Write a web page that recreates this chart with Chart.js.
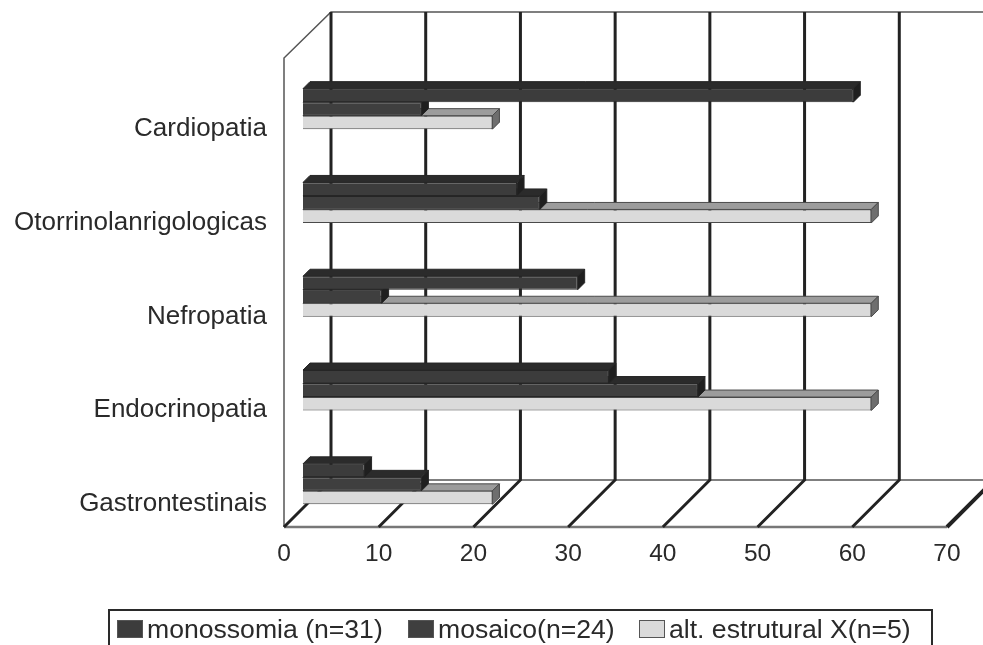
<!DOCTYPE html>
<html>
<head>
<meta charset="utf-8">
<script src="https://cdn.jsdelivr.net/npm/chart.js@4"></script>
<style>
  html, body { margin: 0; padding: 0; background: #fff; overflow: hidden; }
  #wrap { position: relative; width: 983px; height: 645px; overflow: hidden; }
  canvas { display: block; }
  #legend {
    position: absolute; left: 108px; top: 609px; width: 821px; height: 60px;
    border: 2px solid #2a2a2a; display: flex; align-items: flex-start; padding-top: 2px;
    font: 26.6px "Liberation Sans", Arial, sans-serif; color: #2a2a2a; white-space: nowrap;
  }
  .item { position: absolute; top: 0; height: 36px; display: flex; align-items: center; }
  .swatch { width: 26px; height: 18px; margin-right: 4px; box-sizing: border-box; border: 1px solid #555; }
</style>
</head>
<body>
<div id="wrap">
  <canvas id="chart" width="983" height="645"></canvas>
  <div id="legend"></div>
</div>
<script>
const categories = ['Cardiopatia', 'Otorrinolanrigologicas', 'Nefropatia', 'Endocrinopatia', 'Gastrontestinais'];
const monossomia = [58.1, 22.6, 29, 32.3, 6.5];
const mosaico = [12.5, 25, 8.3, 41.7, 12.5];
const estrutural = [20, 60, 60, 60, 20];
const xTicks = [0, 10, 20, 30, 40, 50, 60, 70];

const seriesNames = ['monossomia (n=31)', 'mosaico(n=24)', 'alt. estrutural X(n=5)'];
const frontColors = ['#3c3c3c', '#3f3f3f', '#dadada'];
const borderColors = ['#262626', '#262626', '#4a4a4a'];
const topColors = ['#2b2b2b', '#2b2b2b', '#9c9c9c'];
const sideColors = ['#1f1f1f', '#1f1f1f', '#6e6e6e'];
const legendLeft = [7, 298, 529];

// 3D look: the wall sits 47px behind the front plane, bars 19px in and 7px deep
const WALL = 47, BAR_DX = 19, BAR_DY = 4, DEPTH = 7, WALL_TOP = 12;

const wallPlugin = {
  id: 'wall',
  beforeDatasetsDraw(chart) {
    const { ctx, chartArea: a, scales } = chart;
    const backY = a.bottom - WALL;
    ctx.save();
    ctx.lineCap = 'butt';

    // side wall outline, roof and back floor line
    ctx.strokeStyle = '#555';
    ctx.lineWidth = 1.5;
    ctx.beginPath();
    ctx.moveTo(a.left, a.bottom);
    ctx.lineTo(a.left, a.top);
    ctx.lineTo(a.left + WALL, WALL_TOP);
    ctx.lineTo(chart.width, WALL_TOP);
    ctx.moveTo(a.left + WALL, backY);
    ctx.lineTo(chart.width, backY);
    ctx.stroke();

    // front floor edge
    ctx.strokeStyle = '#777';
    ctx.lineWidth = 2.5;
    ctx.beginPath();
    ctx.moveTo(a.left, a.bottom);
    ctx.lineTo(a.right, a.bottom);
    ctx.stroke();

    // gridlines: diagonal on the floor, vertical on the wall
    for (const v of xTicks) {
      const x = scales.x.getPixelForValue(v);
      ctx.strokeStyle = '#222';
      ctx.lineWidth = v === 70 ? 4 : 3;
      ctx.beginPath();
      ctx.moveTo(x, a.bottom);
      ctx.lineTo(x + WALL, backY);
      ctx.lineTo(x + WALL, WALL_TOP);
      ctx.stroke();
    }
    ctx.restore();

    ctx.save();
    ctx.translate(BAR_DX, BAR_DY);
  },
  afterDatasetDraw(chart, args) {
    const { ctx } = chart;
    const i = args.index;
    ctx.save();
    ctx.lineWidth = 1;
    ctx.strokeStyle = borderColors[i];
    for (const bar of args.meta.data) {
      const top = bar.y - bar.height / 2;
      const bottom = bar.y + bar.height / 2;
      // top face
      ctx.fillStyle = topColors[i];
      ctx.beginPath();
      ctx.moveTo(bar.base, top);
      ctx.lineTo(bar.base + DEPTH, top - DEPTH);
      ctx.lineTo(bar.x + DEPTH, top - DEPTH);
      ctx.lineTo(bar.x, top);
      ctx.closePath();
      ctx.fill();
      ctx.stroke();
      // end face
      ctx.fillStyle = sideColors[i];
      ctx.beginPath();
      ctx.moveTo(bar.x, top);
      ctx.lineTo(bar.x + DEPTH, top - DEPTH);
      ctx.lineTo(bar.x + DEPTH, bottom - DEPTH);
      ctx.lineTo(bar.x, bottom);
      ctx.closePath();
      ctx.fill();
      ctx.stroke();
    }
    ctx.restore();
  },
  afterDatasetsDraw(chart) {
    chart.ctx.restore();
  }
};

const values = [monossomia, mosaico, estrutural];

new Chart(document.getElementById('chart'), {
  type: 'bar',
  plugins: [wallPlugin],
  data: {
    labels: categories,
    datasets: values.map((data, i) => ({
      label: seriesNames[i],
      data,
      backgroundColor: frontColors[i],
      borderColor: borderColors[i],
      borderWidth: 1,
      categoryPercentage: 0.432,
      barPercentage: 1,
      clip: false
    }))
  },
  options: {
    indexAxis: 'y',
    responsive: false,
    animation: false,
    layout: { padding: { top: 58, right: 36, bottom: 58, left: 0 } },
    plugins: { legend: { display: false }, tooltip: { enabled: false } },
    scales: {
      x: {
        min: 0,
        max: 70,
        grid: { display: false, drawTicks: false },
        border: { display: false },
        ticks: {
          stepSize: 10,
          padding: 13,
          color: '#2a2a2a',
          font: { family: '"Liberation Sans"', size: 24.5 }
        },
        afterFit(scale) { scale.height = 60; }
      },
      y: {
        grid: { display: false, drawTicks: false },
        border: { display: false },
        ticks: {
          autoSkip: false,
          padding: 17,
          labelOffset: 24,
          color: '#2a2a2a',
          font: { family: '"Liberation Sans"', size: 26 }
        },
        afterFit(scale) { scale.width = 284; }
      }
    }
  }
});

const legend = document.getElementById('legend');
seriesNames.forEach((name, i) => {
  const item = document.createElement('div');
  item.className = 'item';
  item.style.left = legendLeft[i] + 'px';
  item.innerHTML = `<span class="swatch" style="background:${frontColors[i]}"></span><span>${name}</span>`;
  legend.appendChild(item);
});
</script>
</body>
</html>
